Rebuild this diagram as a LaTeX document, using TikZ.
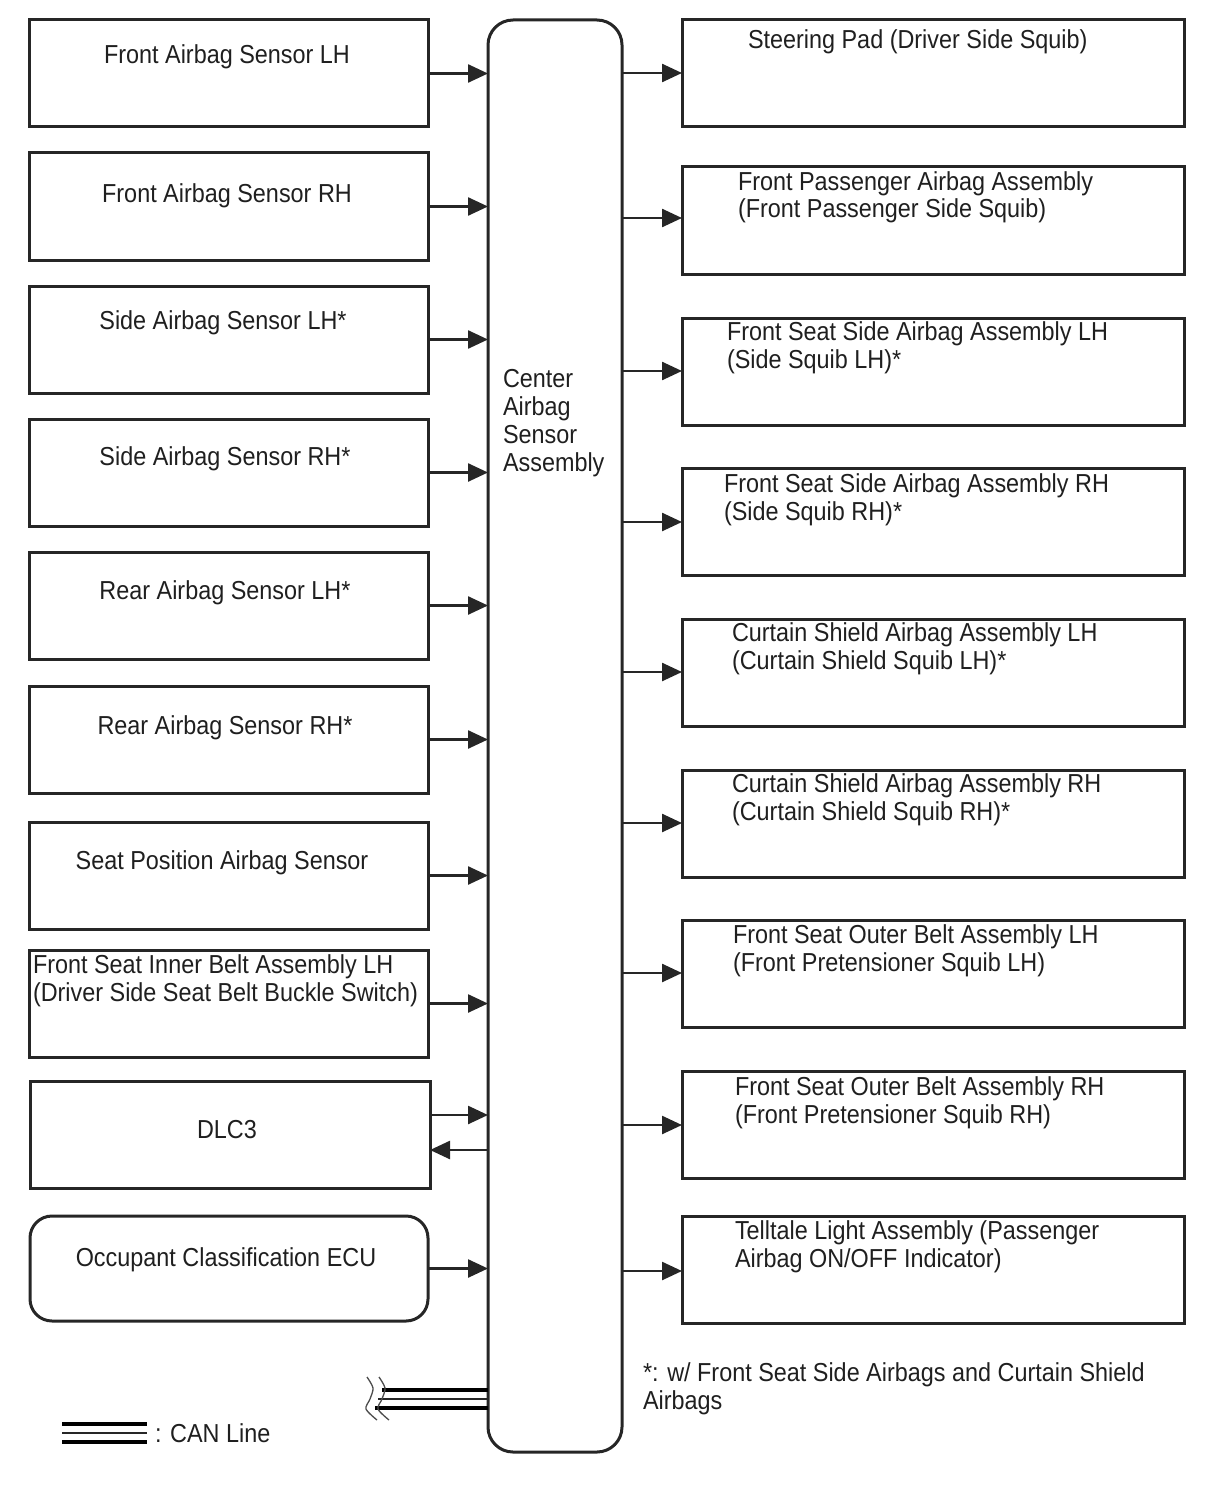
\documentclass[tikz,border=0pt]{standalone}
\usepackage{fontspec}
\setmainfont{Liberation Sans}[FakeStretch=0.9]
\usetikzlibrary{arrows.meta}
\begin{document}
\begin{tikzpicture}[x=1pt,y=-1pt,
 box/.style={draw=black!85, line width=3pt, anchor=north west, inner sep=0pt, outer sep=0pt, minimum width=#1},
 box/.default=399pt,
 lbox/.style={box=399pt, minimum height=107pt},
 rbox/.style={box=502pt, minimum height=107pt},
 txt/.style={inner sep=0pt, outer sep=0pt, font=\fontsize{26}{30}\selectfont, text=black!88},
 ct/.style={txt, anchor=base},
 lt/.style={txt, anchor=base west},
 arr/.style={line width=2.5pt, draw=black!85, -{Triangle[length=20pt,width=18pt]}},
 canthick/.style={line width=4pt, draw=black},
 canthin/.style={line width=2pt, draw=black!85},
 wave/.style={line width=1.3pt, draw=black!70},
]
\useasboundingbox (0,0) rectangle (1210,1498);

% center box
\node[box=134pt, minimum height=1432pt, rounded corners=25pt] (c) at (488,20) {};
\node[lt] (ct1) at (503,387) {Center};
\node[lt] (ct2) at (503,415) {Airbag};
\node[lt] (ct3) at (503,443) {Sensor};
\node[lt] (ct4) at (503,471) {Assembly};

% left boxes
\node[lbox] (l1) at (29,20) {};
\node[lbox] (l2) at (29,153) {};
\node[lbox] (l3) at (29,286) {};
\node[lbox] (l4) at (29,419) {};
\node[lbox] (l5) at (29,552) {};
\node[lbox] (l6) at (29,686) {};
\node[lbox] (l7) at (29,822) {};
\node[lbox] (l8) at (29,950) {};
\node[box=400pt, minimum height=107pt] (l9) at (30,1081) {};
\node[box=398pt, minimum height=105pt, rounded corners=22pt] (l10) at (30,1216) {};

\node[ct] (t1) at (227,64) {Front Airbag Sensor LH};
\node[ct] (t2) at (227,202) {Front Airbag Sensor RH};
\node[ct] (t3) at (223,329) {Side Airbag Sensor LH*};
\node[ct] (t4) at (225,465) {Side Airbag Sensor RH*};
\node[ct] (t5) at (225,599) {Rear Airbag Sensor LH*};
\node[ct] (t6) at (225,734) {Rear Airbag Sensor RH*};
\node[ct] (t7) at (222,869) {Seat Position Airbag Sensor};
\node[lt] (t8a) at (33,973) {Front Seat Inner Belt Assembly LH};
\node[lt] (t8b) at (33,1001) {(Driver Side Seat Belt Buckle Switch)};
\node[ct] (t9) at (227,1138) {DLC3};
\node[ct] (t10) at (226,1266) {Occupant Classification ECU};

% left arrows
\foreach \n in {l1,l2,l3,l4,l5,l6,l7,l8,l10}{
  \draw[arr] (\n.east) -- (\n.east -| c.west);
}
\draw[arr] (l9.east |- 0,1115) -- (c.west |- 0,1115);
\draw[arr] (c.west |- 0,1150) -- (l9.east |- 0,1150);

% right boxes
\node[rbox] (r1) at (682,20) {};
\node[rbox] (r2) at (682,167) {};
\node[rbox] (r3) at (682,318) {};
\node[rbox] (r4) at (682,468) {};
\node[rbox] (r5) at (682,619) {};
\node[rbox] (r6) at (682,770) {};
\node[rbox] (r7) at (682,920) {};
\node[rbox] (r8) at (682,1071) {};
\node[rbox] (r9) at (682,1216) {};

\node[lt] (s1) at (748,49) {Steering Pad (Driver Side Squib)};
\node[lt] (s2a) at (738,190) {Front Passenger Airbag Assembly};
\node[lt] (s2b) at (738,218) {(Front Passenger Side Squib)};
\node[lt] (s3a) at (727,340) {Front Seat Side Airbag Assembly LH};
\node[lt] (s3b) at (727,368) {(Side Squib LH)*};
\node[lt] (s4a) at (724,492) {Front Seat Side Airbag Assembly RH};
\node[lt] (s4b) at (724,520) {(Side Squib RH)*};
\node[lt] (s5a) at (732,641) {Curtain Shield Airbag Assembly LH};
\node[lt] (s5b) at (732,669) {(Curtain Shield Squib LH)*};
\node[lt] (s6a) at (732,792) {Curtain Shield Airbag Assembly RH};
\node[lt] (s6b) at (732,820) {(Curtain Shield Squib RH)*};
\node[lt] (s7a) at (733,943) {Front Seat Outer Belt Assembly LH};
\node[lt] (s7b) at (733,971) {(Front Pretensioner Squib LH)};
\node[lt] (s8a) at (735,1095) {Front Seat Outer Belt Assembly RH};
\node[lt] (s8b) at (735,1123) {(Front Pretensioner Squib RH)};
\node[lt] (s9a) at (735,1239) {Telltale Light Assembly (Passenger};
\node[lt] (s9b) at (735,1267) {Airbag ON/OFF Indicator)};

% right arrows
\draw[arr] (c.east |- 0,73) -- (r1.west |- 0,73);
\draw[arr] (c.east |- 0,218) -- (r2.west |- 0,218);
\draw[arr] (c.east |- 0,371) -- (r3.west |- 0,371);
\draw[arr] (c.east |- 0,522) -- (r4.west |- 0,522);
\draw[arr] (c.east |- 0,672) -- (r5.west |- 0,672);
\draw[arr] (c.east |- 0,823) -- (r6.west |- 0,823);
\draw[arr] (c.east |- 0,973) -- (r7.west |- 0,973);
\draw[arr] (c.east |- 0,1125) -- (r8.west |- 0,1125);
\draw[arr] (c.east |- 0,1271) -- (r9.west |- 0,1271);

% footnote
\node[lt] (f1) at (643,1381) {*: w/ Front Seat Side Airbags and Curtain Shield};
\node[lt] (f2) at (643,1409) {Airbags};

% CAN line
\coordinate (can1) at (382,1390);
\coordinate (can2) at (378,1399);
\coordinate (can3) at (375,1408);
\draw[canthick] (c.west |- can1) -- (can1);
\draw[canthin] (c.west |- can2) -- (can2);
\draw[canthick] (c.west |- can3) -- (can3);
\draw[wave] plot[smooth] coordinates {(367,1377) (373,1388) (370,1399) (366,1409) (377,1420)};
\draw[wave] plot[smooth] coordinates {(379,1377) (385,1388) (382,1399) (378,1409) (389,1420)};

% legend
\coordinate (lg1) at (62,1424);
\coordinate (lg2) at (62,1433);
\coordinate (lg3) at (62,1442);
\draw[canthick] (lg1) -- ++(85,0);
\draw[canthin] (lg2) -- ++(85,0);
\draw[canthick] (lg3) -- ++(85,0);
\node[lt] (lgt) at (155,1442) {: CAN Line};
\end{tikzpicture}
\end{document}
